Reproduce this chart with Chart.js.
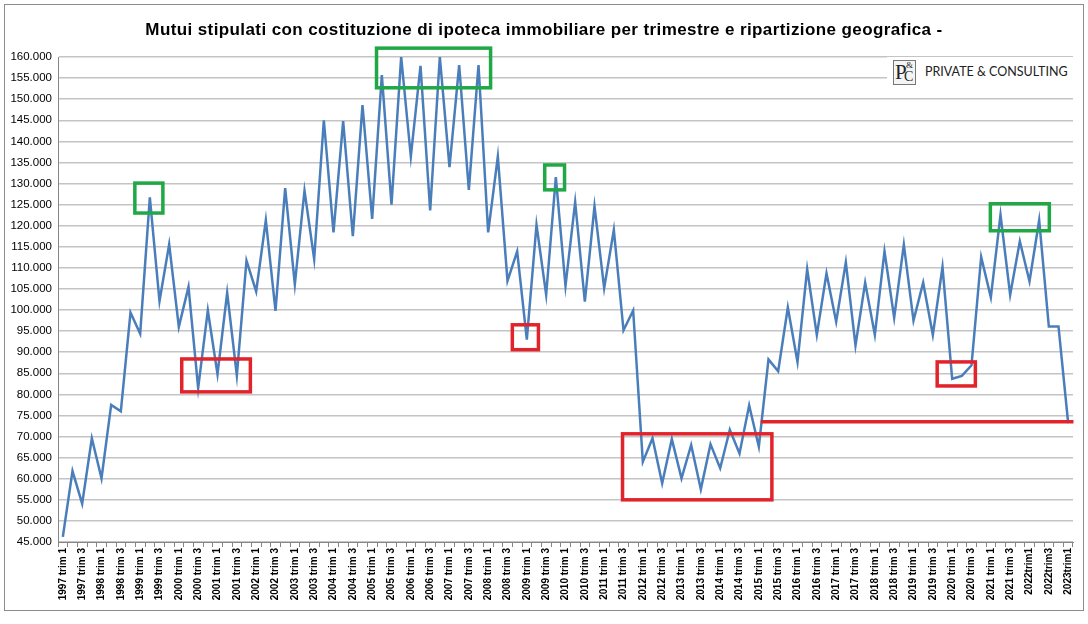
<!DOCTYPE html>
<html lang="it">
<head>
<meta charset="utf-8">
<title>Mutui stipulati con costituzione di ipoteca immobiliare</title>
<script src="https://cdn.jsdelivr.net/npm/chart.js@4.4.1/dist/chart.umd.min.js"></script>
<style>
    html, body { margin: 0; padding: 0; background: #fff; }
    #wrap { position: relative; width: 1088px; height: 624px; overflow: hidden; }
    #frame { position: absolute; left: 4px; top: 4px; width: 1078px; height: 605px; border: 1px solid #8c8c8c; }
    #chart { position: absolute; left: 0; top: 0; }
    #title { position: absolute; left: 0; top: 20px; width: 1088px; text-align: center; letter-spacing: 0.4px;
             font: bold 17px 'Liberation Sans', Arial, sans-serif; color: #000; }
    #logo { position: absolute; left: 887px; top: 57px; width: 190px; height: 31px; background: #fff; }
    #logo .mark { position: absolute; left: 6px; top: 3px; width: 21px; height: 23px; border: 1px solid #777;
                  background: #f4f4f4; font-family: 'Liberation Serif', serif; color: #222; }
    #logo .mark .p { position: absolute; left: 1px; top: -1px; font-size: 21px; }
    #logo .mark .amp { position: absolute; left: 12px; top: -1px; font-size: 9px; }
    #logo .mark .c { position: absolute; left: 10px; top: 8px; font-size: 14px; }
    #logo .name { position: absolute; left: 38px; top: 7px; font: 12.5px 'Lato', 'Open Sans', sans-serif;
                  color: #222; white-space: nowrap; }
</style>
</head>
<body>
<div id="wrap">
    <div id="frame"></div>
    <canvas id="chart" width="1088" height="624"></canvas>
    <div id="title">Mutui stipulati con costituzione di ipoteca immobiliare per trimestre e ripartizione geografica -</div>
    <div id="logo">
        <div class="mark"><span class="p">P</span><span class="amp">&amp;</span><span class="c">C</span></div>
        <div class="name">PRIVATE &amp; CONSULTING</div>
    </div>
</div>
<script>
// tick labels shown on the axis (one every two quarters)
const tickLabels = [
    '1997 trim 1', '1997 trim 3', '1998 trim 1', '1998 trim 3', '1999 trim 1', '1999 trim 3',
    '2000 trim 1', '2000 trim 3', '2001 trim 1', '2001 trim 3', '2002 trim 1', '2002 trim 3',
    '2003 trim 1', '2003 trim 3', '2004 trim 1', '2004 trim 3', '2005 trim 1', '2005 trim 3',
    '2006 trim 1', '2006 trim 3', '2007 trim 1', '2007 trim 3', '2008 trim 1', '2008 trim 3',
    '2009 trim 1', '2009 trim 3', '2010 trim 1', '2010 trim 3', '2011 trim 1', '2011 trim 3',
    '2012 trim 1', '2012 trim 3', '2013 trim 1', '2013 trim 3', '2014 trim 1', '2014 trim 3',
    '2015 trim 1', '2015 trim 3', '2016 trim 1', '2016 trim 3', '2017 trim 1', '2017 trim 3',
    '2018 trim 1', '2018 trim 3', '2019 trim 1', '2019 trim 3', '2020 trim 1', '2020 trim 3',
    '2021 trim 1', '2021 trim 3', '2022trim1', '2022trim3', '2023trim1'
];

// quarterly number of mortgages, 1997 Q1 .. 2023 Q1
const mutui = [
    46200, 61800, 54100, 69600,     // 1997
    60100, 77500, 76000, 99400,     // 1998
    94400, 126700, 102100, 115600,  // 1999
    96000, 105500, 81500, 99900,    // 2000
    84800, 104100, 84500, 111700,   // 2001
    104400, 121300, 99800, 128900,  // 2002
    106100, 128300, 112100, 145000, // 2003
    118400, 144800, 117500, 148600, // 2004
    121600, 155700, 125000, 160000, // 2005
    136400, 157900, 123600, 160000, // 2006
    133900, 158100, 128500, 158100, // 2007
    118400, 136400, 106900, 113900, // 2008
    93000, 120200, 103600, 131500,  // 2009
    105700, 125600, 102000, 124600, // 2010
    105200, 119000, 95200, 99900,   // 2011
    64000, 69600, 58900, 69400,     // 2012
    60100, 68000, 57500, 68200,     // 2013
    62500, 71600, 66000, 77400,     // 2014
    67600, 88300, 85500, 100600,    // 2015
    87700, 109700, 94100, 108700,   // 2016
    97200, 111300, 91600, 106500,   // 2017
    94100, 113900, 98200, 115500,   // 2018
    97500, 106500, 94100, 110200,   // 2019
    83700, 84400, 86900, 112600,    // 2020
    103000, 122600, 103600, 116300, // 2021
    106800, 121300, 96100, 96100,   // 2022
    73200                           // 2023
];

const yMin = 45000;
const yMax = 160000;
const yStep = 5000;

// highlight boxes drawn over the chart (category index range, value range)
const highlightBoxes = [
    { color: '#21a846', from: 7.45, to: 10.35, low: 123000, high: 130100 },
    { color: '#e1232b', from: 12.3, to: 19.4, low: 80600, high: 88400 },
    { color: '#21a846', from: 32.45, to: 44.25, low: 152700, high: 162100 },
    { color: '#e1232b', from: 46.5, to: 49.2, low: 90600, high: 96500 },
    { color: '#21a846', from: 49.85, to: 51.9, low: 128500, high: 134400 },
    { color: '#e1232b', from: 57.9, to: 73.35, low: 55000, high: 70650 },
    { color: '#e1232b', from: 90.45, to: 94.4, low: 82000, high: 87700 },
    { color: '#21a846', from: 95.95, to: 102.05, low: 118800, high: 125200 }
];
const redLevel = { color: '#e1232b', from: 72.2, to: 104.55, value: 73500 };

// one category per quarter, labels only on quarters 1 and 3
const categories = tickLabels.flatMap((label, i) => i < tickLabels.length - 1 ? [label, ''] : [label]);

const formatMigliaia = v => String(v).replace(/\B(?=(\d{3})+(?!\d))/g, '.');

const highlightPlugin = {
    id: 'highlights',
    afterDatasetsDraw(chart) {
        const { ctx } = chart;
        const x = chart.scales.x;
        const y = chart.scales.y;
        ctx.save();
        ctx.lineWidth = 3.5;
        highlightBoxes.forEach(b => {
            const left = x.getPixelForValue(b.from);
            const right = x.getPixelForValue(b.to);
            const top = y.getPixelForValue(b.high);
            const bottom = y.getPixelForValue(b.low);
            ctx.strokeStyle = b.color;
            ctx.strokeRect(left, top, right - left, bottom - top);
        });
        const ly = y.getPixelForValue(redLevel.value);
        ctx.strokeStyle = redLevel.color;
        ctx.beginPath();
        ctx.moveTo(x.getPixelForValue(redLevel.from), ly);
        ctx.lineTo(x.getPixelForValue(redLevel.to), ly);
        ctx.stroke();
        ctx.restore();
    }
};

const ctx = document.getElementById('chart').getContext('2d');
new Chart(ctx, {
    type: 'line',
    data: {
        labels: categories,
        datasets: [{
            label: 'Mutui',
            data: mutui,
            borderColor: '#4a7ebb',
            borderWidth: 2.5,
            pointRadius: 0,
            tension: 0,
            fill: false
        }]
    },
    options: {
        responsive: false,
        animation: false,
        devicePixelRatio: 1,
        layout: { padding: { top: 57, right: 15, bottom: 0, left: 0 } },
        plugins: {
            legend: { display: false },
            tooltip: { enabled: false }
        },
        scales: {
            x: {
                offset: true,
                afterFit: scale => { scale.height = 82; },
                border: { color: '#868686', width: 1 },
                grid: { display: true, offset: true, drawOnChartArea: false, tickLength: 5, color: '#868686' },
                ticks: {
                    autoSkip: false,
                    maxRotation: 90,
                    minRotation: 90,
                    padding: 1,
                    color: '#000',
                    font: { family: 'Liberation Sans', size: 10, weight: 'bold' }
                }
            },
            y: {
                min: yMin,
                max: yMax,
                afterFit: scale => { scale.width = 58; },
                border: { color: '#868686', width: 1 },
                grid: { color: '#c4c4c4', lineWidth: 1.5, drawTicks: false },
                ticks: {
                    stepSize: yStep,
                    padding: 6,
                    color: '#000',
                    font: { family: 'Liberation Sans', size: 11.5 },
                    callback: v => formatMigliaia(v)
                }
            }
        }
    },
    plugins: [highlightPlugin]
});
</script>
</body>
</html>
